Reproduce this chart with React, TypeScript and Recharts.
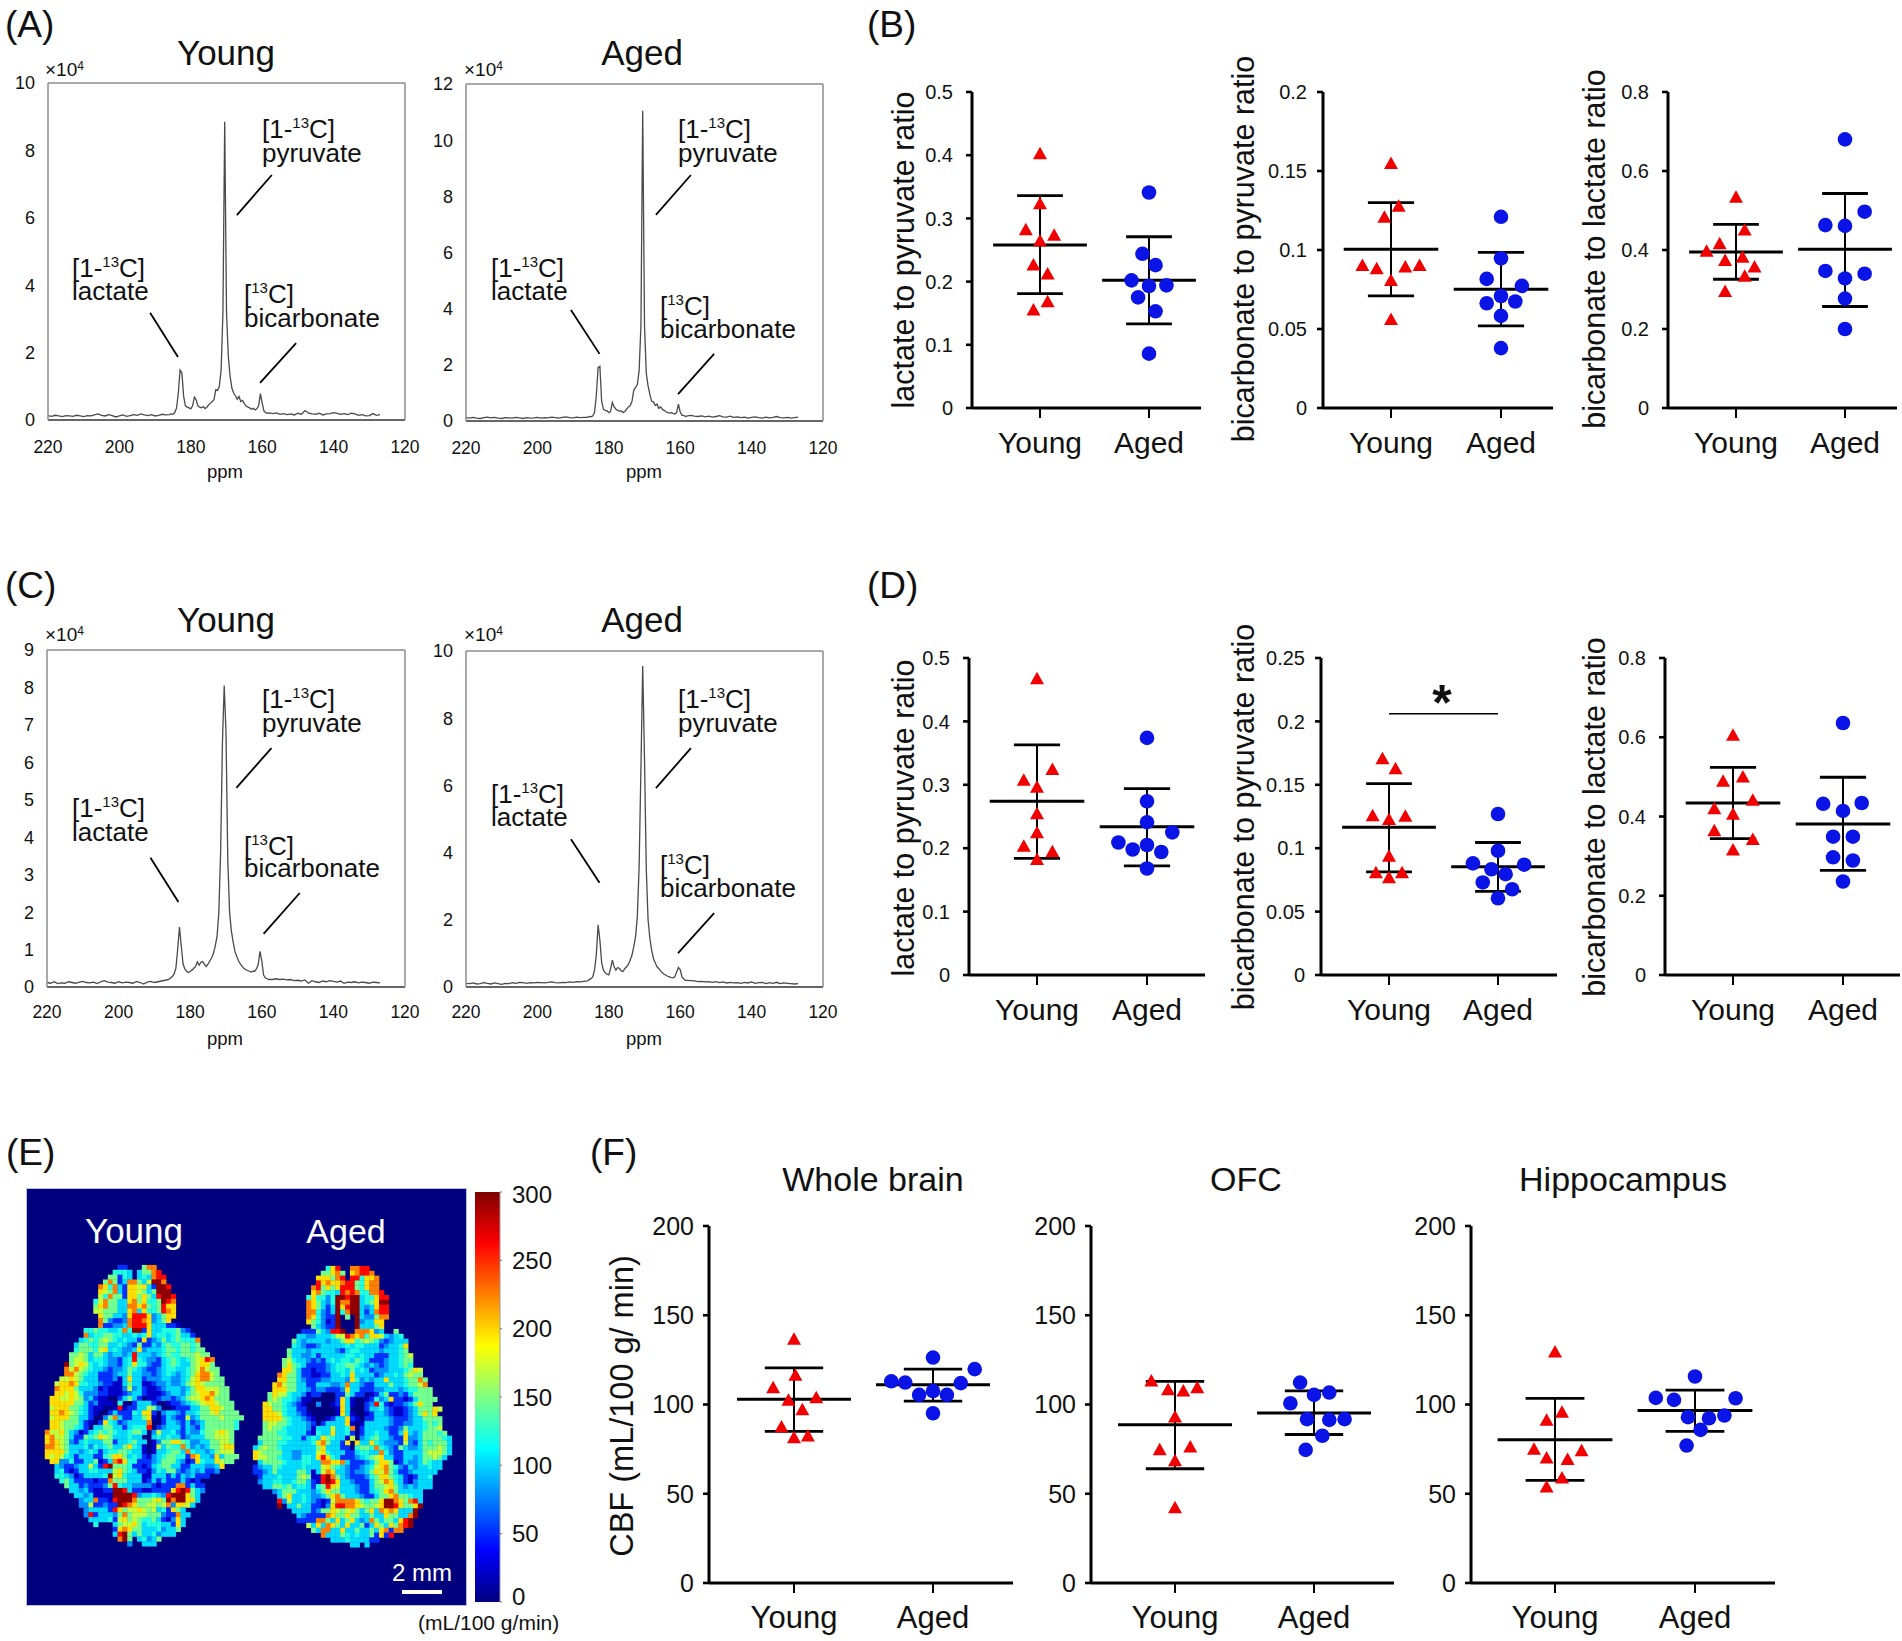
import React from 'react';
import {
  LineChart,
  Line,
  XAxis,
  YAxis,
  ScatterChart,
  Scatter,
  BarChart,
  Bar,
  ReferenceLine,
} from 'recharts';

const FONT = '"Liberation Sans", Arial, sans-serif';

// 13C spectra, shared ppm grid (finer around the peaks)
const PPM = [
  220, 219, 218, 217, 216, 215, 214, 213, 212, 211, 210, 209, 208, 207, 206, 205, 204, 203, 202, 201, 200, 199, 198, 197,
  196, 195, 194, 193, 192, 191, 190, 189, 188, 187,
  186, 185.5, 185, 184.5, 184, 183.5, 183, 182.5, 182, 181.5, 181, 180.5, 180, 179.5, 179, 178.5, 178, 177.5, 177, 176.5,
  176, 175.5, 175, 174.5, 174, 173.5, 173, 172.5, 172, 171.5, 171, 170.5, 170, 169.5, 169, 168.5, 168, 167.5, 167, 166.5,
  166, 165.5, 165, 164.5, 164, 163.5, 163, 162.5, 162, 161.5, 161, 160.5, 160, 159.5, 159, 158.5, 158,
  157, 156, 155, 154, 153, 152, 151, 150, 149, 148, 147, 146, 145, 144, 143, 142, 141, 140, 139, 138, 137, 136, 135, 134,
  133, 132, 131, 130, 129, 128, 127,
];
const A_YOUNG_SPEC = [
  .13, .11, .14, .12, .10, .13, .12, .11, .14, .12, .10, .13, .12, .15, .18, .14, .12, .16, .13, .09, .12, .15, .11, .13,
  .16, .14, .18, .15, .13, .16, .12, .14, .17, .15,
  .16, .18, .17, .22, .35, .8, 1.48, 1.4, .7, .42, .38, .36, .33, .42, .68, .6, .42, .38, .36, .4,
  .34, .38, .45, .5, .55, .6, .9, .88, 1.0, 1.5, 3.2, 8.85, 3.2, 1.9, 1.3, .95, .8, .72, .62, .7,
  .55, .58, .48, .42, .38, .36, .32, .35, .3, .33, .42, .78, .5, .26, .22, .2, .21,
  .19, .21, .17, .19, .16, .18, .15, .2, .17, .28, .2, .18, .17, .2, .15, .18, .19, .22, .2, .17, .19, .16, .2, .18,
  .14, .16, .12, .13, .19, .14, .16,
];
const A_AGED_SPEC = [
  .12, .1, .13, .1, .09, .12, .14, .11, .13, .1, .09, .12, .11, .1, .13, .11, .09, .12, .1, .11, .13, .1, .12, .11,
  .14, .12, .1, .13, .15, .12, .11, .14, .12, .13,
  .13, .16, .15, .18, .3, .9, 1.9, 1.95, .7, .42, .38, .36, .3, .34, .66, .5, .42, .38, .35, .36,
  .3, .34, .42, .5, .55, .7, 1.1, 1.2, 1.3, 1.8, 3.4, 11.05, 3.4, 1.7, 1.25, .95, .7, .68, .55, .6,
  .45, .5, .42, .38, .33, .3, .28, .3, .27, .25, .3, .6, .32, .2, .2, .16, .18,
  .2, .17, .16, .18, .15, .17, .14, .16, .19, .15, .14, .17, .13, .15, .12, .14, .1, .13, .15, .12, .1, .14, .11, .13,
  .16, .12, .11, .13, .1, .12, .14,
];
const C_YOUNG_SPEC = [
  .12, .1, .14, .09, .11, .1, .14, .12, .1, .13, .15, .12, .11, .13, .09, .14, .17, .13, .12, .1, .14, .11, .13, .12,
  .1, .15, .12, .08, .13, .15, .12, .14, .16, .18,
  .2, .24, .28, .35, .5, 1.0, 1.6, 1.1, .62, .48, .42, .38, .42, .45, .5, .55, .67, .58, .66, .68,
  .6, .55, .62, .7, .78, .9, 1.1, 1.35, 2.0, 3.6, 6.5, 8.05, 6.8, 3.4, 2.0, 1.5, 1.2, .95, .82, .7,
  .62, .55, .5, .46, .44, .42, .4, .42, .42, .48, .6, .95, .7, .32, .24, .22, .2,
  .2, .22, .2, .21, .19, .2, .17, .18, .16, .19, .1, .17, .14, .12, .16, .14, .17, .15, .13, .16, .1, .13, .12, .14,
  .11, .13, .12, .1, .13, .12, .11,
];
const C_AGED_SPEC = [
  .11, .1, .12, .09, .1, .13, .11, .09, .12, .1, .08, .11, .1, .13, .11, .14, .13, .11, .13, .12, .14, .13, .12, .14,
  .15, .13, .12, .14, .13, .15, .14, .16, .15, .17,
  .18, .22, .25, .3, .5, .95, 1.85, 1.4, .72, .5, .42, .38, .36, .55, .8, .6, .5, .58, .55, .48,
  .46, .55, .6, .68, .8, .95, 1.2, 1.5, 2.1, 3.6, 6.5, 9.55, 6.8, 3.5, 2, 1.45, 1.1, .85, .72, .6,
  .55, .48, .42, .38, .35, .32, .3, .28, .27, .3, .45, .58, .52, .3, .24, .2, .2,
  .19, .18, .16, .17, .15, .16, .14, .16, .13, .15, .12, .14, .12, .13, .11, .14, .12, .15, .11, .13, .14, .1, .13, .11,
  .14, .1, .12, .11, .1, .09, .1,
];
const PPM_TICKS = [220, 200, 180, 160, 140, 120];

// leader lines, [ppm, signal, ppm, signal]
const A_YOUNG_LEADERS = [[157.3, 7.27, 167.1, 6.08], [191.4, 3.18, 183.6, 1.87], [150.5, 2.28, 160.6, 1.1]];
const A_AGED_LEADERS = [[157, 8.76, 166.8, 7.34], [190.6, 3.95, 182.6, 2.39], [150.5, 2.39, 160.6, 0.96]];
const C_YOUNG_LEADERS = [[157.3, 6.38, 167.1, 5.32], [191.1, 3.45, 183.3, 2.27], [149.4, 2.51, 159.5, 1.42]];
const C_AGED_LEADERS = [[157, 7.11, 166.8, 5.92], [190.6, 4.4, 182.6, 3.1], [150.5, 2.2, 160.6, 1.01]];

// animal values as [swarm offset, value]
const B1_YOUNG = [[0, .403], [0, .324], [-.13, .283], [.13, .274], [0, .265], [-.06, .227], [.07, .213], [.07, .169], [-.06, .156]];
const B1_AGED = [[0, .341], [-.06, .244], [.06, .226], [-.16, .202], [0, .193], [.16, .194], [-.1, .175], [.06, .153], [0, .086]];
const B2_YOUNG = [[0, .155], [.07, .128], [-.06, .121], [-.26, .0905], [-.13, .0884], [.13, .0895], [.26, .0905], [0, .081], [0, .0564]];
const B2_AGED = [[0, .121], [0, .0947], [-.13, .0817], [.19, .0773], [0, .0709], [-.13, .0663], [.13, .0674], [0, .0583], [0, .0379]];
const B3_YOUNG = [[0, .535], [.08, .452], [-.15, .417], [-.27, .398], [-.1, .375], [.06, .383], [.17, .358], [.08, .335], [-.1, .296]];
const B3_AGED = [[0, .68], [.18, .497], [-.18, .463], [0, .461], [-.18, .347], [.18, .34], [0, .328], [0, .277], [0, .2]];
const D1_YOUNG = [[0, .468], [.14, .325], [-.12, .308], [0, .297], [0, .255], [0, .225], [-.12, .204], [.14, .195], [0, .183]];
const D1_AGED = [[0, .374], [0, .274], [0, .241], [.23, .225], [-.26, .209], [-.13, .198], [0, .205], [.13, .194], [0, .168]];
const D2_YOUNG = [[-.06, .171], [.06, .163], [-.15, .126], [0, .123], [.15, .1255], [0, .094], [-.12, .081], [.12, .081], [0, .077]];
const D2_AGED = [[0, .127], [0, .098], [-.23, .088], [.24, .087], [-.06, .0834], [.07, .0795], [-.14, .073], [.13, .0676], [0, .0605]];
const D3_YOUNG = [[0, .606], [-.09, .49], [.09, .501], [.18, .442], [-.17, .421], [0, .407], [-.17, .365], [.18, .343], [0, .317]];
const D3_AGED = [[0, .636], [-.18, .432], [.17, .434], [0, .414], [-.09, .349], [.09, .349], [-.09, .297], [.09, .289], [0, .236]];
const F1_YOUNG = [[0, 136.8], [.01, 116.6], [-.15, 109.7], [.16, 104], [-.04, 102.6], [.06, 97.4], [-.09, 87.7], [.1, 82.6], [0, 81.7]];
const F1_AGED = [[0, 126.3], [.3, 119.8], [-.3, 113], [-.2, 112.3], [.2, 112], [0, 107.5], [-.1, 105.4], [.1, 105.4], [0, 95.1]];
const F2_YOUNG = [[-.17, 113.4], [-.05, 108.6], [.06, 107.8], [.16, 109.7], [0, 93.3], [-.11, 75], [.11, 76.5], [0, 68.7], [0, 42.4]];
const F2_AGED = [[-.1, 112.3], [.11, 106.7], [0, 105.4], [-.17, 100.7], [-.05, 91.8], [.11, 91.4], [.22, 91.8], [.06, 82.5], [-.06, 74.6]];
const F3_YOUNG = [[0, 129.7], [.05, 96], [-.06, 91.4], [-.15, 75.2], [.19, 74.3], [-.06, 70.3], [.09, 69.4], [.05, 59.1], [-.06, 54.1]];
const F3_AGED = [[0, 115.7], [-.28, 103.7], [-.15, 102.6], [.29, 103.5], [-.05, 92.9], [.1, 92.3], [.21, 93.8], [.04, 85.8], [-.06, 77]];

// [mean, upper sd, lower sd] for young, then aged
const B1_STATS = [[.258, .336, .181], [.202, .271, .133]];
const B2_STATS = [[.1004, .13, .071], [.0752, .0985, .052]];
const B3_STATS = [[.395, .465, .326], [.402, .543, .257]];
const D1_STATS = [[.274, .363, .184], [.234, .294, .172]];
const D2_STATS = [[.1166, .151, .0813], [.0853, .1045, .066]];
const D3_STATS = [[.434, .524, .344], [.381, .499, .264]];
const F1_STATS = [[103, 120.5, 85], [111, 119.8, 101.9]];
const F2_STATS = [[88.6, 112.9, 64], [95.3, 107.6, 83.2]];
const F3_STATS = [[80.2, 103.4, 57.5], [96.6, 108, 85]];

// CBF maps: one character per voxel. '.' is background, the rest index BRAIN_LEVELS
const BRAIN_CODES = '0123456789D';
const BRAIN_LEVELS = [22, 52, 80, 102, 122, 146, 170, 197, 225, 260, 295];
const BRAIN_YOUNG = [
  '...............11...588',
  '..............4443.35589',
  '.............55143.343899',
  '............5851388536DD8',
  '...........874831776731DD9',
  '...........765831776535DDD',
  '...........6485517757539DD9',
  '..........46855337857445D98',
  '..........57855338878545977',
  '..........66555337837445987',
  '...........7553327999723577',
  '...........852112899872357',
  '...........81122389997333110',
  '........4454433484DD1733444521',
  '........83445544334347344345331',
  '.......3454565434331712353454448',
  '......35544553343215113245445545',
  '......455546734322372333455455455',
  '.....55653553233239333234544555655',
  '.....566534432213494322134543456798',
  '....D567643432213474421134543356775',
  '....86865433212235432112344334568655',
  '....88654331112335332212343234578865',
  '...6676533311120373312223322346788655',
  '..67787443321100353300122322356765555',
  '..877753332010002623100123332357766655',
  '..776764222110001233100012332456778655',
  '.776676523100..13531.00122123566787555',
  '.7777755312000.4..13331..01123456776555',
  '.67775543100..0901133652..0111335577655',
  '.7787654310..1311143771.2332133455675555',
  '.677755331..25831133570.13211623555565555',
  '.776555310.17431233338..1332131235555554',
  '.77655431.335533134449.12333132135555554',
  '866753201345454334553.26334213224556765',
  '78665311545765333433..34343312333556665',
  '787652134333551334533.02557754223355665',
  '887653334243453357430.06354484232355677',
  '777753323431344554330.03345538433235666',
  '7676431333114577534310234554418733273555',
  '.77224113350138974411123555320174337655',
  '..32112336319D55541101345533113332237',
  '..3410133443336754311024355212323112',
  '..44320133334D67433300333131323111',
  '...45311110118555333013131113101',
  '....53312111259433222210111881311',
  '.....332310011DD931100111179D9532',
  '......33230000DDDD92334329DDD753',
  '.......23381109DDD8555675D8DD773',
  '.......22611211D987556656827763',
  '........233331975667656341753',
  '........2913332585666555211833',
  '.........33334167565445310273',
  '..........4...356675344433173',
  '..............17875533342335',
  '..............39D5353342333',
  '...............8D5.34235',
  '.................2..333',
];
const BRAIN_AGED = [
  '...............479..8899',
  '..............55785.78998',
  '.............777589.994778',
  '.............9787789954788',
  '............89575799954788',
  '............785443989844889',
  '...........474424DD9DD344799',
  '...........875324D88DD3457DD',
  '...........875313D79DD323799',
  '...........884213D48DD313899',
  '...........874211D.5.D322588',
  '...........754201D...D23377',
  '............53211D...D33357',
  '..........11153299D..888723..5',
  '.........3322333466987847763234',
  '........532333323357745654212333',
  '........432112333334344333123347',
  '.......5333233333213443333233345',
  '.......53322313333344343311133456',
  '......564332121343443543111233455',
  '......575431111234455432321233454',
  '......77531101123443534312223334576',
  '.....875531100113343733331233435655',
  '.....7755321112233327423233733345585',
  '....78655331133322383321133353345568',
  '....777553321221112733111223332344555',
  '...57664332011...115311.0135112135555',
  '...565443200.....1730..014237110135555',
  '..765543210..2..01730..12941011235755',
  '..775543311......073...1334210012355576',
  '..7776433210.....0730..013321001235757',
  '..77775433210..0133710.1133321112335555',
  '..56655433321.1333370.03333321122334545',
  '..56554333320333633 48.13333211253334556'.replace(' ', ''),
  '..5554433331043373341.133433113732355545',
  '.55555443313437543306.2345332117223555543',
  '.35554433333478533 17.733743222162135455 53'.replace(/ /g, ''),
  '35655433333335733311.45548432153223555653',
  '76555533223336743331134433842113333566653',
  '7665543322443797431112345673311332355653',
  '.35555433344338877831112357750132235433',
  '123354333343336754321123467854213233433',
  '11235333355303687332122357685311233333',
  '.13334333565009D853211124577543101334',
  '.23344334553109D973321113568743102333',
  '..33554534431459763332113556753232333',
  '....2355533323575533321134578533333',
  '.....357334322357853332113557855433',
  '.....9263343210168888754557DD875893',
  '.....D.33533110279988765567DD97557D',
  '........3333125576567535738787333D',
  '.........321111875575533533755338D',
  '.........11118853735732385355379D',
  '...........637387537335137537589D',
  '............5388337335335378188',
  '..............833354343351719',
  '................3334333311',
  '....................33.3',
];
const MAP_COLS = 90.5;
const MAP_ROWS = 85.8;

const COLORBAR_TICKS = [0, 50, 100, 150, 200, 250, 300];
const JET_STOPS = [
  [0, '#00007f'], [0.125, '#0000ff'], [0.375, '#00ffff'], [0.625, '#ffff00'], [0.875, '#ff0000'], [1, '#7f0000'],
];

function jet(v: number) {
  const t = Math.min(1, Math.max(0, v / 300));
  const ramp = (c: number) => Math.round(255 * Math.min(1, Math.max(0, 1.5 - Math.abs(4 * t - c))));
  return `rgb(${ramp(3)},${ramp(2)},${ramp(1)})`;
}

function brainCells(rows: string[], colOffset: number, rowOffset: number) {
  const cells: { x: number; y: number; v: number }[] = [];
  rows.forEach((row, r) => {
    row.split('').forEach((ch, c) => {
      const i = BRAIN_CODES.indexOf(ch);
      if (i >= 0) cells.push({ x: colOffset + c + 0.5, y: rowOffset + r + 0.5, v: BRAIN_LEVELS[i] });
    });
  });
  return cells;
}

const tickFont = (size: number) => ({ fontSize: size, fill: '#111', fontFamily: FONT });

function Spectrum({ box, yMax, yTicks, data, leaders, labelBottom }: any) {
  const chartData = PPM.map((ppm, i) => ({ ppm, signal: data[i] }));
  const [left, top, w, h] = box;
  const frame = { stroke: '#8c8c8c', strokeWidth: 1.5 };
  return (
    <div style={{ position: 'absolute', left: left - 40, top: top - 10 }}>
      <LineChart width={w + 60} height={h + 10 + 40} data={chartData} margin={{ top: 10, right: 20, left: 0, bottom: 10 }}>
        <XAxis
          dataKey="ppm"
          type="number"
          domain={[120, 220]}
          reversed
          ticks={PPM_TICKS}
          interval={0}
          height={30}
          tickLine={false}
          tickMargin={labelBottom}
          axisLine={{ stroke: '#666', strokeWidth: 2 }}
          tick={tickFont(17.5)}
        />
        <XAxis xAxisId="top" orientation="top" type="number" domain={[120, 220]} reversed ticks={PPM_TICKS} interval={0} height={1} mirror tick={false} tickSize={4} axisLine={frame} tickLine={frame} />
        <YAxis
          type="number"
          domain={[0, yMax]}
          ticks={yTicks}
          interval={0}
          width={40}
          tickLine={false}
          tickMargin={7}
          axisLine={frame}
          tick={tickFont(18)}
        />
        <YAxis yAxisId="right" orientation="right" type="number" domain={[0, yMax]} ticks={yTicks} interval={0} width={1} mirror tick={false} tickSize={4} axisLine={frame} tickLine={frame} />
        <Line dataKey="signal" type="linear" stroke="#4a4a4a" strokeWidth={1.3} dot={false} isAnimationActive={false} />
        {leaders.map((l: number[], i: number) => (
          <ReferenceLine key={i} segment={[{ x: l[0], y: l[1] }, { x: l[2], y: l[3] }]} stroke="#000" strokeWidth={1.8} />
        ))}
      </LineChart>
    </div>
  );
}

const triangle = (p: any) => (
  <polygon points={`${p.cx - 7},${p.cy + 6} ${p.cx + 7},${p.cy + 6} ${p.cx},${p.cy - 6.5}`} fill="#f00000" />
);
const circle = (p: any) => <circle cx={p.cx} cy={p.cy} r={7.3} fill="#0a14e6" />;

function groupStats({ at, stats, meanHalf, capHalf }: any) {
  const [mean, hi, lo] = stats;
  const seg = (x1: number, y1: number, x2: number, y2: number, w: number, key: string) => (
    <ReferenceLine key={key + at} segment={[{ x: x1, y: y1 }, { x: x2, y: y2 }]} stroke="#000" strokeWidth={w} />
  );
  return [
    seg(at, lo, at, hi, 2, 'v'),
    seg(at - meanHalf, mean, at + meanHalf, mean, 3, 'm'),
    seg(at - capHalf, hi, at + capHalf, hi, 2.8, 'h'),
    seg(at - capHalf, lo, at + capHalf, lo, 2.8, 'l'),
  ];
}

function RatioPanel({ layout, yMax, yTicks, young, aged, stats, tickSize, tickGap = 13, xSize, xMargin, sig, meanHalf = 0.43 }: any) {
  const [axisX, endX, topY, bottomY, youngX, agedX] = layout;
  const unit = agedX - youngX;
  const domain = [1 - (youngX - axisX) / unit, 2 + (endX - agedX) / unit];
  const pts = (rows: number[][], at: number) => rows.map(([dx, y]) => ({ x: at + dx, y }));
  const axis = { stroke: '#000', strokeWidth: 3 };
  return (
    <div style={{ position: 'absolute', left: axisX - 70, top: topY - 15 }}>
      <ScatterChart
        width={endX - axisX + 75}
        height={bottomY - topY + 75}
        margin={{ top: 15, right: 5, left: 0, bottom: 0 }}
      >
        <XAxis
          dataKey="x"
          type="number"
          domain={domain}
          ticks={[1, 2]}
          interval={0}
          height={60}
          allowDataOverflow
          tickFormatter={(v: number) => (v === 1 ? 'Young' : 'Aged')}
          tickSize={10}
          tickMargin={xMargin}
          axisLine={axis}
          tickLine={{ stroke: '#000', strokeWidth: 2 }}
          tick={tickFont(xSize)}
        />
        <YAxis
          dataKey="y"
          type="number"
          domain={[0, yMax]}
          ticks={yTicks}
          interval={0}
          width={70}
          tickSize={6}
          tickMargin={tickGap}
          axisLine={axis}
          tickLine={{ stroke: '#000', strokeWidth: 2.6 }}
          tick={tickFont(tickSize)}
        />
        {sig != null && <ReferenceLine segment={[{ x: 1, y: sig }, { x: 2, y: sig }]} stroke="#000" strokeWidth={1.6} />}
        <Scatter data={pts(young, 1)} shape={triangle} isAnimationActive={false} />
        <Scatter data={pts(aged, 2)} shape={circle} isAnimationActive={false} />
        {groupStats({ at: 1, stats: stats[0], meanHalf, capHalf: 0.21 })}
        {groupStats({ at: 2, stats: stats[1], meanHalf, capHalf: 0.21 })}
      </ScatterChart>
    </div>
  );
}

const voxel = (p: any) => (
  <rect x={p.cx - 2.6} y={p.cy - 2.6} width={5.2} height={5.2} fill={jet(p.payload.v)} />
);

function BrainMap() {
  return (
    <div style={{ position: 'absolute', left: 27, top: 1189, background: '#00007f', outline: '1px solid #b9bfe0' }}>
      <ScatterChart width={439} height={416} margin={{ top: 0, right: 0, left: 0, bottom: 0 }}>
        <XAxis dataKey="x" type="number" domain={[0, MAP_COLS]} hide />
        <YAxis dataKey="y" type="number" domain={[0, MAP_ROWS]} reversed hide />
        <Scatter data={brainCells(BRAIN_YOUNG, 3.7, 15.7)} shape={voxel} isAnimationActive={false} />
        <Scatter data={brainCells(BRAIN_AGED, 46.6, 15.9)} shape={voxel} isAnimationActive={false} />
      </ScatterChart>
    </div>
  );
}

const colorbarTick = (p: any) => {
  const shift = p.payload.value === 300 ? 2 : p.payload.value === 0 ? -6 : 0;
  return (
    <text x={p.x + 8} y={p.y + shift + 8.5} fontSize={24} fill="#111" fontFamily={FONT} textAnchor="start">
      {p.payload.value}
    </text>
  );
};

function Colorbar() {
  return (
    <div style={{ position: 'absolute', left: 475, top: 1182 }}>
      <BarChart
        width={90}
        height={430}
        data={[{ name: 'cbf', v: 300 }]}
        barCategoryGap={0}
        margin={{ top: 10, right: 0, left: 0, bottom: 10 }}
      >
        <defs>
          <linearGradient id="jetBar" x1="0" y1="1" x2="0" y2="0">
            {JET_STOPS.map(([o, c]) => (
              <stop key={o as number} offset={o as number} stopColor={c as string} />
            ))}
          </linearGradient>
        </defs>
        <XAxis dataKey="name" hide />
        <YAxis
          orientation="right"
          type="number"
          domain={[0, 300]}
          ticks={COLORBAR_TICKS}
          interval={0}
          width={65}
          tickSize={2}
          axisLine={{ stroke: '#999', strokeWidth: 1 }}
          tickLine={{ stroke: '#777' }}
          tick={colorbarTick}
        />
        <Bar dataKey="v" fill="url(#jetBar)" isAnimationActive={false} />
      </BarChart>
    </div>
  );
}

function Iso({ x, y, pre, sup, post }: any) {
  return (
    <text x={x} y={y} fontSize={26}>
      {pre}
      <tspan dy={-10} fontSize={15}>{sup}</tspan>
      <tspan dy={10}>{post}</tspan>
    </text>
  );
}

function Times({ x, y }: any) {
  return (
    <text x={x} y={y} fontSize={19}>
      ×10<tspan dy={-6} fontSize={12}>4</tspan>
    </text>
  );
}

function VLabel({ x, y, size = 30.5, children }: any) {
  return (
    <text transform={`translate(${x},${y}) rotate(-90)`} textAnchor="middle" fontSize={size}>
      {children}
    </text>
  );
}

// labels as [x, line 1 baseline, line 2 baseline]
function SpectrumText({ pyruvate, lactate, bicarbonate }: any) {
  return (
    <g>
      <Iso x={pyruvate[0]} y={pyruvate[1]} pre="[1-" sup="13" post="C]" />
      <text x={pyruvate[0]} y={pyruvate[2]} fontSize={26}>pyruvate</text>
      <Iso x={lactate[0]} y={lactate[1]} pre="[1-" sup="13" post="C]" />
      <text x={lactate[0]} y={lactate[2]} fontSize={26}>lactate</text>
      <Iso x={bicarbonate[0]} y={bicarbonate[1]} pre="[" sup="13" post="C]" />
      <text x={bicarbonate[0]} y={bicarbonate[2]} fontSize={26}>bicarbonate</text>
    </g>
  );
}

function Overlay() {
  return (
    <svg width={1902} height={1641} style={{ position: 'absolute', left: 0, top: 0, pointerEvents: 'none' }} fontFamily={FONT} fill="#111">
      <g fontSize={37}>
        <text x={5} y={37}>(A)</text>
        <text x={867} y={37}>(B)</text>
        <text x={5} y={598}>(C)</text>
        <text x={867} y={598}>(D)</text>
        <text x={6} y={1165}>(E)</text>
        <text x={590} y={1165}>(F)</text>
      </g>

      <g fontSize={35} textAnchor="middle">
        <text x={226} y={65}>Young</text>
        <text x={642} y={65}>Aged</text>
        <text x={226} y={632}>Young</text>
        <text x={642} y={632}>Aged</text>
      </g>
      <g fontSize={34} textAnchor="middle">
        <text x={873} y={1191}>Whole brain</text>
        <text x={1246} y={1191}>OFC</text>
        <text x={1623} y={1191}>Hippocampus</text>
      </g>

      <Times x={45} y={76} />
      <Times x={464} y={76} />
      <Times x={45} y={641} />
      <Times x={464} y={641} />

      <g fontSize={18.5} textAnchor="middle">
        <text x={225} y={478}>ppm</text>
        <text x={644} y={478}>ppm</text>
        <text x={225} y={1045}>ppm</text>
        <text x={644} y={1045}>ppm</text>
      </g>

      <SpectrumText pyruvate={[262, 138, 162]} lactate={[72, 277, 300]} bicarbonate={[244, 303, 327]} />
      <SpectrumText pyruvate={[678, 138, 162]} lactate={[491, 277, 300]} bicarbonate={[660, 315, 338]} />
      <SpectrumText pyruvate={[262, 708, 732]} lactate={[72, 817, 841]} bicarbonate={[244, 855, 877]} />
      <SpectrumText pyruvate={[678, 708, 732]} lactate={[491, 803, 826]} bicarbonate={[660, 874, 897]} />

      <VLabel x={914} y={250}>lactate to pyruvate ratio</VLabel>
      <VLabel x={1254} y={249}>bicarbonate to pyruvate ratio</VLabel>
      <VLabel x={1605} y={249}>bicarbonate to lactate ratio</VLabel>
      <VLabel x={914} y={818}>lactate to pyruvate ratio</VLabel>
      <VLabel x={1254} y={817}>bicarbonate to pyruvate ratio</VLabel>
      <VLabel x={1605} y={817}>bicarbonate to lactate ratio</VLabel>
      <VLabel x={633} y={1406} size={32.5}>CBF (mL/100 g/ min)</VLabel>

      <text x={1442} y={720} fontSize={50} fontWeight="bold" textAnchor="middle">*</text>

      <g fill="#fff" textAnchor="middle">
        <text x={134} y={1243} fontSize={35}>Young</text>
        <text x={346} y={1243} fontSize={34}>Aged</text>
        <text x={422} y={1581} fontSize={24}>2 mm</text>
      </g>
      <rect x={402} y={1590} width={40} height={4} fill="#fff" />
      <text x={418} y={1630} fontSize={21}>(mL/100 g/min)</text>
    </svg>
  );
}

export default function App() {
  const panelB = [0, 0.1, 0.2, 0.3, 0.4, 0.5];
  const panelRatio = [0, 0.2, 0.4, 0.6, 0.8];
  const cbf = [0, 50, 100, 150, 200];
  return (
    <div style={{ position: 'absolute', left: 0, top: 0, width: 1902, height: 1641, background: '#fff', fontFamily: FONT }}>
      <Spectrum box={[48, 83, 357, 337]} yMax={10} yTicks={[0, 2, 4, 6, 8, 10]} data={A_YOUNG_SPEC} leaders={A_YOUNG_LEADERS} labelBottom={15} />
      <Spectrum box={[466, 84, 357, 337]} yMax={12} yTicks={[0, 2, 4, 6, 8, 10, 12]} data={A_AGED_SPEC} leaders={A_AGED_LEADERS} labelBottom={15} />
      <Spectrum box={[47, 650, 358, 337]} yMax={9} yTicks={[0, 1, 2, 3, 4, 5, 6, 7, 8, 9]} data={C_YOUNG_SPEC} leaders={C_YOUNG_LEADERS} labelBottom={13} />
      <Spectrum box={[466, 651, 357, 336]} yMax={10} yTicks={[0, 2, 4, 6, 8, 10]} data={C_AGED_SPEC} leaders={C_AGED_LEADERS} labelBottom={13} />

      <RatioPanel layout={[972, 1201, 92, 408, 1040, 1149]} yMax={0.5} yTicks={panelB} young={B1_YOUNG} aged={B1_AGED} stats={B1_STATS} tickSize={20} xSize={30} xMargin={14} />
      <RatioPanel layout={[1323, 1553, 92, 408, 1391, 1501]} yMax={0.2} yTicks={[0, 0.05, 0.1, 0.15, 0.2]} young={B2_YOUNG} aged={B2_AGED} stats={B2_STATS} tickSize={20} tickGap={10} xSize={30} xMargin={14} />
      <RatioPanel layout={[1668, 1897, 92, 408, 1736, 1845]} yMax={0.8} yTicks={panelRatio} young={B3_YOUNG} aged={B3_AGED} stats={B3_STATS} tickSize={20} xSize={30} xMargin={14} />
      <RatioPanel layout={[969, 1205, 658, 975, 1037, 1147]} yMax={0.5} yTicks={panelB} young={D1_YOUNG} aged={D1_AGED} stats={D1_STATS} tickSize={20} xSize={30} xMargin={14} />
      <RatioPanel layout={[1321, 1557, 658, 975, 1389, 1498]} yMax={0.25} yTicks={[0, 0.05, 0.1, 0.15, 0.2, 0.25]} young={D2_YOUNG} aged={D2_AGED} stats={D2_STATS} tickSize={20} tickGap={10} xSize={30} xMargin={14} sig={0.206} />
      <RatioPanel layout={[1665, 1900, 658, 975, 1733, 1843]} yMax={0.8} yTicks={panelRatio} young={D3_YOUNG} aged={D3_AGED} stats={D3_STATS} tickSize={20} xSize={30} xMargin={14} />
      <RatioPanel layout={[709, 1013, 1226, 1583, 794, 933]} yMax={200} yTicks={cbf} young={F1_YOUNG} aged={F1_AGED} stats={F1_STATS} tickSize={25} tickGap={9} xSize={31} xMargin={13} meanHalf={0.41} />
      <RatioPanel layout={[1091, 1394, 1226, 1583, 1175, 1314]} yMax={200} yTicks={cbf} young={F2_YOUNG} aged={F2_AGED} stats={F2_STATS} tickSize={25} tickGap={9} xSize={31} xMargin={13} meanHalf={0.41} />
      <RatioPanel layout={[1471, 1775, 1226, 1583, 1555, 1695]} yMax={200} yTicks={cbf} young={F3_YOUNG} aged={F3_AGED} stats={F3_STATS} tickSize={25} tickGap={9} xSize={31} xMargin={13} meanHalf={0.41} />

      <BrainMap />
      <Colorbar />
      <Overlay />
    </div>
  );
}
